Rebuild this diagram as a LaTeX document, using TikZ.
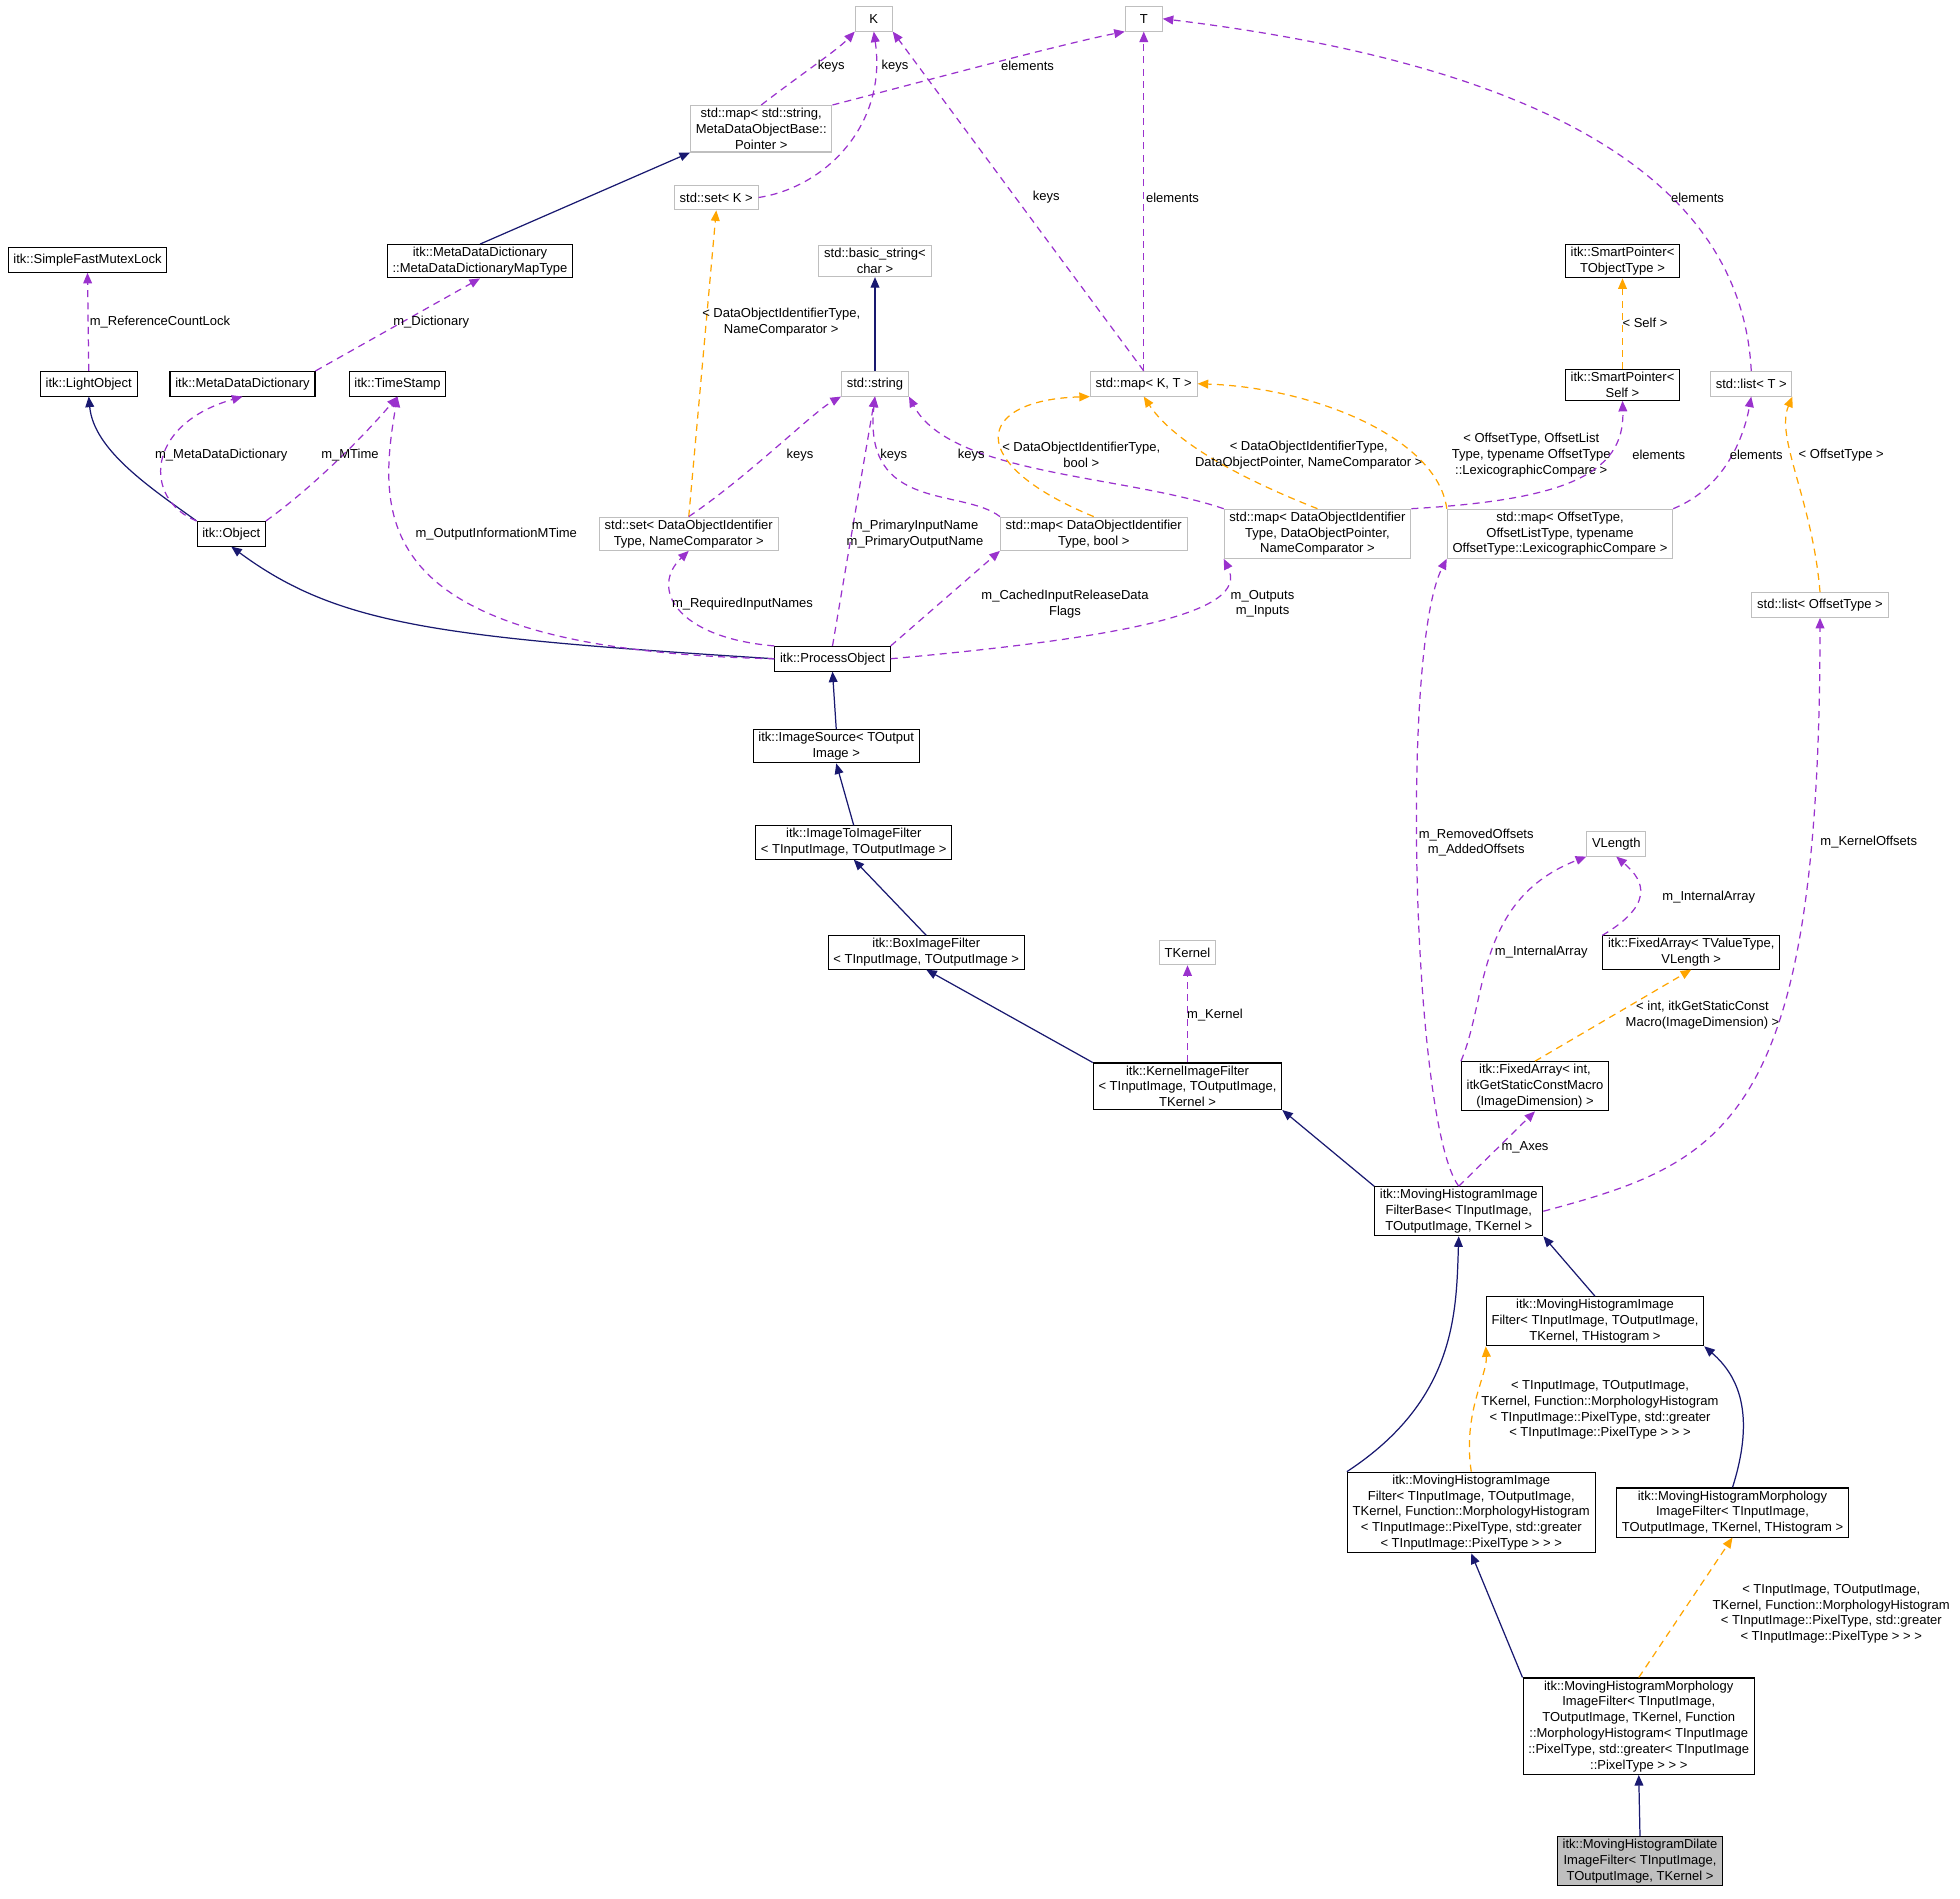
\documentclass[tikz,border=0pt]{standalone}
\usepackage{fontspec}
\setmainfont{Liberation Sans}
\usetikzlibrary{arrows.meta}
\definecolor{navy}{HTML}{191970}
\definecolor{purp}{HTML}{9A32CD}
\definecolor{orng}{HTML}{FFA500}
\definecolor{gbord}{HTML}{BFBFBF}
\tikzset{
 box/.style={draw, rectangle, align=center, inner xsep=3pt, inner ysep=1.5pt, minimum height=14pt, font=\fontsize{7.4}{9}\selectfont, line width=0.6pt},
 cls/.style={box, draw=black},
 ext/.style={box, draw=gbord},
 inh/.style={draw=navy, line width=0.7pt, -{Triangle[length=6pt,width=5pt]}},
 usee/.style={draw=purp, line width=0.7pt, dash pattern=on 4pt off 3pt, -{Triangle[length=6pt,width=5pt]}},
 tpl/.style={draw=orng, line width=0.7pt, dash pattern=on 4pt off 3pt, -{Triangle[length=6pt,width=5pt]}},
 lbl/.style={align=center, inner sep=0pt, font=\fontsize{7.4}{9}\selectfont}
}
\begin{document}
\begin{tikzpicture}[x=0.025cm,y=-0.025cm]
\useasboundingbox (0,0) rectangle (1568,1519);
% nodes
\node[ext, minimum width=21pt] (K) at (699,15) {K};
\node[ext, minimum width=21pt] (T) at (915,15) {T};
\node[ext] (mapstr) at (609,103) {std::map< std::string,\\MetaDataObjectBase::\\Pointer >};
\node[ext] (setK) at (573,158) {std::set< K >};
\node[cls] (mutex) at (70,208) {itk::SimpleFastMutexLock};
\node[cls] (mddmt) at (384,209) {itk::MetaDataDictionary\\::MetaDataDictionaryMapType};
\node[ext] (bstr) at (700,209) {std::basic\_string<\\char >};
\node[cls] (spT) at (1298,209) {itk::SmartPointer<\\TObjectType >};
\node[cls] (light) at (71,307) {itk::LightObject};
\node[cls] (mdd) at (194,307) {itk::MetaDataDictionary};
\node[cls] (tstamp) at (318,307) {itk::TimeStamp};
\node[ext] (str) at (700,307) {std::string};
\node[ext] (mapKT) at (915,307) {std::map< K, T >};
\node[cls] (spS) at (1298,308) {itk::SmartPointer<\\Self >};
\node[ext] (listT) at (1401,307) {std::list< T >};
\node[cls] (obj) at (185,427) {itk::Object};
\node[ext] (setD) at (551,427) {std::set< DataObjectIdentifier\\Type, NameComparator >};
\node[ext] (mapDb) at (875,427) {std::map< DataObjectIdentifier\\Type, bool >};
\node[ext] (mapD3) at (1054,427) {std::map< DataObjectIdentifier\\Type, DataObjectPointer,\\NameComparator >};
\node[ext] (mapO) at (1248,427) {std::map< OffsetType,\\OffsetListType, typename\\OffsetType::LexicographicCompare >};
\node[ext] (listO) at (1456,484) {std::list< OffsetType >};
\node[cls] (proc) at (666,527) {itk::ProcessObject};
\node[cls] (isrc) at (669,597) {itk::ImageSource< TOutput\\Image >};
\node[cls] (i2i) at (683,674) {itk::ImageToImageFilter\\< TInputImage, TOutputImage >};
\node[cls] (boxf) at (741,762) {itk::BoxImageFilter\\< TInputImage, TOutputImage >};
\node[ext] (tk) at (950,762) {TKernel};
\node[ext] (vlen) at (1293,675) {VLength};
\node[cls] (faV) at (1353,762) {itk::FixedArray< TValueType,\\VLength >};
\node[cls] (kif) at (950,869) {itk::KernelImageFilter\\< TInputImage, TOutputImage,\\TKernel >};
\node[cls] (faI) at (1228,869) {itk::FixedArray< int,\\itkGetStaticConstMacro\\(ImageDimension) >};
\node[cls] (base) at (1167,969) {itk::MovingHistogramImage\\FilterBase< TInputImage,\\TOutputImage, TKernel >};
\node[cls] (mhH) at (1276,1057) {itk::MovingHistogramImage\\Filter< TInputImage, TOutputImage,\\TKernel, THistogram >};
\node[cls] (mhM) at (1177,1210) {itk::MovingHistogramImage\\Filter< TInputImage, TOutputImage,\\TKernel, Function::MorphologyHistogram\\< TInputImage::PixelType, std::greater\\< TInputImage::PixelType > > >};
\node[cls] (mmH) at (1386,1210) {itk::MovingHistogramMorphology\\ImageFilter< TInputImage,\\TOutputImage, TKernel, THistogram >};
\node[cls] (mmM) at (1311,1381) {itk::MovingHistogramMorphology\\ImageFilter< TInputImage,\\TOutputImage, TKernel, Function\\::MorphologyHistogram< TInputImage\\::PixelType, std::greater< TInputImage\\::PixelType > > >};
\node[cls, fill=gbord] (dil) at (1312,1489) {itk::MovingHistogramDilate\\ImageFilter< TInputImage,\\TOutputImage, TKernel >};
% edges top
\draw[usee] (mapstr.north) .. controls (640,60) and (670,40) .. (K.south west);
\node[lbl] at (665,53) {keys};
\draw[usee] (setK.east) .. controls (660,150) and (710,100) .. (K.south);
\node[lbl] at (716,53) {keys};
\draw[usee] (mapstr.north east) .. controls (720,70) and (850,35) .. (T.south west);
\node[lbl] at (822,53) {elements};
\draw[inh] (mddmt.north) -- (mapstr.south west);
\draw[tpl] (setD.north) -- (setK.south);
\node[lbl] at (625,258) {< DataObjectIdentifierType,\\NameComparator >};
\draw[usee] (light.north) -- (mutex.south);
\node[lbl] at (128,258) {m\_ReferenceCountLock};
\draw[usee] (mdd.north east) -- (mddmt.south);
\node[lbl] at (345,258) {m\_Dictionary};
\draw[inh] (str.north) -- (bstr.south);
\draw[usee] (mapKT.north) -- (K.south east);
\node[lbl] at (837,158) {keys};
\draw[usee] (mapKT.north) -- (T.south);
\node[lbl] at (938,158) {elements};
\draw[usee] (listT.north) .. controls (1395,180) and (1300,60) .. (T.east);
\node[lbl] at (1358,158) {elements};
\draw[tpl] (spS.north) -- (spT.south);
\node[lbl] at (1316,258) {< Self >};
% object level
\draw[inh] (obj.north west) .. controls (120,390) and (75,360) .. (light.south);
\draw[usee] (obj.north west) .. controls (115,400) and (115,340) .. (mdd.south);
\node[lbl] at (177,364) {m\_MetaDataDictionary};
\draw[usee] (obj.north east) .. controls (250,390) and (290,350) .. (tstamp.south);
\node[lbl] at (280,364) {m\_MTime};
\draw[usee] (setD.north) .. controls (600,380) and (650,330) .. (str.south west);
\node[lbl] at (640,364) {keys};
\draw[usee] (mapDb.north west) .. controls (770,390) and (690,410) .. (str.south);
\node[lbl] at (715,364) {keys};
\draw[usee] (mapD3.north west) .. controls (900,380) and (760,380) .. (str.south east);
\node[lbl] at (777,364) {keys};
\draw[tpl] (mapDb.north) .. controls (770,370) and (780,320) .. (mapKT.south west);
\node[lbl] at (865,364) {< DataObjectIdentifierType,\\bool >};
\draw[tpl] (mapD3.north) .. controls (960,370) and (930,340) .. (mapKT.south);
\node[lbl] at (1047,364) {< DataObjectIdentifierType,\\DataObjectPointer, NameComparator >};
\draw[tpl] (mapO.north west) .. controls (1150,350) and (1050,310) .. (mapKT.east);
\node[lbl] at (1225,364) {< OffsetType, OffsetList\\Type, typename OffsetType\\::LexicographicCompare >};
\draw[usee] (mapD3.north east) .. controls (1250,400) and (1300,380) .. (spS.south);
\node[lbl] at (1327,364) {elements};
\draw[usee] (mapO.north east) .. controls (1380,390) and (1395,350) .. (listT.south);
\node[lbl] at (1405,364) {elements};
\draw[tpl] (listO.north) .. controls (1450,400) and (1420,350) .. (listT.south east);
\node[lbl] at (1473,364) {< OffsetType >};
% process object
\draw[inh] (proc.west) .. controls (350,510) and (270,500) .. (obj.south);
\draw[usee] (proc.west) .. controls (300,520) and (300,420) .. (tstamp.south);
\node[lbl] at (397,427) {m\_OutputInformationMTime};
\draw[usee] (proc.north west) .. controls (540,510) and (520,470) .. (setD.south);
\node[lbl] at (594,483) {m\_RequiredInputNames};
\draw[usee] (proc.north) -- (str.south);
\node[lbl] at (732,427) {m\_PrimaryInputName\\m\_PrimaryOutputName};
\draw[usee] (proc.north east) -- (mapDb.south west);
\node[lbl] at (852,483) {m\_CachedInputReleaseData\\Flags};
\draw[usee] (proc.east) .. controls (900,510) and (1000,490) .. (mapD3.south west);
\node[lbl] at (1010,483) {m\_Outputs\\m\_Inputs};
\draw[inh] (isrc.north) -- (proc.south);
\draw[inh] (i2i.north) -- (isrc.south);
\draw[inh] (boxf.north) -- (i2i.south);
\draw[inh] (kif.north west) -- (boxf.south);
\draw[usee] (kif.north) -- (tk.south);
\node[lbl] at (972,812) {m\_Kernel};
\draw[usee] (faV.north west) .. controls (1330,720) and (1310,700) .. (vlen.south);
\node[lbl] at (1367,718) {m\_InternalArray};
\draw[usee] (faI.north west) .. controls (1190,800) and (1180,720) .. (vlen.south west);
\node[lbl] at (1233,762) {m\_InternalArray};
\draw[tpl] (faI.north) -- (faV.south);
\node[lbl] at (1362,812) {< int, itkGetStaticConst\\Macro(ImageDimension) >};
\draw[inh] (base.north west) -- (kif.south east);
\draw[usee] (base.north) .. controls (1130,900) and (1120,520) .. (mapO.south west);
\node[lbl] at (1181,674) {m\_RemovedOffsets\\m\_AddedOffsets};
\draw[usee] (base.north) -- (faI.south);
\node[lbl] at (1220,918) {m\_Axes};
\draw[usee] (base.east) .. controls (1380,930) and (1456,900) .. (listO.south);
\node[lbl] at (1495,674) {m\_KernelOffsets};
\draw[inh] (mhH.north) -- (base.south east);
\draw[inh] (mhM.north west) .. controls (1165,1120) and (1165,1050) .. (base.south);
\draw[tpl] (mhM.north) .. controls (1170,1130) and (1190,1100) .. (mhH.south west);
\node[lbl] at (1280,1128) {< TInputImage, TOutputImage,\\TKernel, Function::MorphologyHistogram\\< TInputImage::PixelType, std::greater\\< TInputImage::PixelType > > >};
\draw[inh] (mmH.north) .. controls (1405,1130) and (1390,1100) .. (mhH.south east);
\draw[inh] (mmM.north west) -- (mhM.south);
\draw[tpl] (mmM.north) -- (mmH.south);
\node[lbl] at (1465,1291) {< TInputImage, TOutputImage,\\TKernel, Function::MorphologyHistogram\\< TInputImage::PixelType, std::greater\\< TInputImage::PixelType > > >};
\draw[inh] (dil.north) -- (mmM.south);
\end{tikzpicture}
\end{document}
